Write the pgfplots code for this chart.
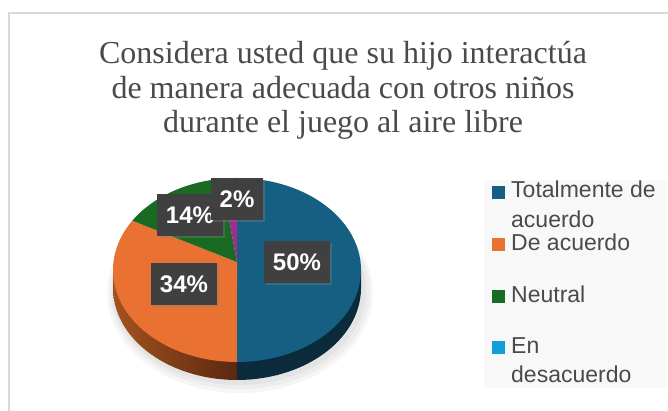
\documentclass[border=0pt]{standalone}
\usepackage{pgfplots}
\pgfplotsset{compat=1.18}
\usepackage{pgfplotstable}
\usetikzlibrary{shadows}
\usepackage{fontspec}
\setmainfont{Liberation Serif}
\newfontfamily\sansf{Liberation Sans}
\definecolor{cA}{HTML}{156082}
\definecolor{cB}{HTML}{E97132}
\definecolor{cC}{HTML}{196B24}
\definecolor{cD}{HTML}{0F9ED5}
\definecolor{cE}{HTML}{A02B93}
\definecolor{sideA}{HTML}{0B2A3B}
\definecolor{sideBl}{HTML}{A4521E}
\definecolor{sideBr}{HTML}{5A2811}
\definecolor{txt}{HTML}{4A4A4A}
\definecolor{lbl}{HTML}{404040}
\definecolor{frame}{HTML}{D9D9D9}
\definecolor{legbg}{HTML}{F8F8F8}

\pgfplotstableread[col sep=comma]{
categoria,pct
Totalmente de acuerdo,50
De acuerdo,34
Neutral,14
En desacuerdo,0
Totalmente en desacuerdo,2
}\piedata
\pgfplotstablegetelem{0}{pct}\of\piedata \let\pA\pgfplotsretval
\pgfplotstablegetelem{1}{pct}\of\piedata \let\pB\pgfplotsretval
\pgfplotstablegetelem{2}{pct}\of\piedata \let\pC\pgfplotsretval
\pgfplotstablegetelem{3}{pct}\of\piedata \let\pD\pgfplotsretval
\pgfplotstablegetelem{4}{pct}\of\piedata \let\pE\pgfplotsretval
\pgfmathsetmacro{\aO}{90}
\pgfmathsetmacro{\aA}{\aO-3.6*\pA}
\pgfmathsetmacro{\aB}{\aA-3.6*\pB}
\pgfmathsetmacro{\aC}{\aB-3.6*\pC}
\pgfmathsetmacro{\aD}{\aC-3.6*\pD}
\pgfmathsetmacro{\aE}{\aD-3.6*\pE}

\tikzset{lab/.style={fill=lbl, text=white, font=\sansf\bfseries\fontsize{24}{26}\selectfont,
  minimum height=42pt, inner xsep=9pt, inner ysep=0pt,
  drop shadow={opacity=0.35, shadow xshift=2pt, shadow yshift=-2pt}}}

\begin{document}
\begin{tikzpicture}
\begin{axis}[width=668pt, height=411pt, scale only axis,
  xmin=0, xmax=668, ymin=0, ymax=411, hide axis, clip=false]
% frame
\draw[frame, line width=1.5pt] (axis cs:9,0) -- (axis cs:9,398) -- (axis cs:668,398);
% title
\node[anchor=base, text=txt, font=\fontsize{32}{35}\selectfont] at (axis cs:343,347) {Considera usted que su hijo interactúa};
\node[anchor=base, text=txt, font=\fontsize{32}{35}\selectfont] at (axis cs:343,312) {de manera adecuada con otros niños};
\node[anchor=base, text=txt, font=\fontsize{32}{35}\selectfont] at (axis cs:343,278) {durante el juego al aire libre};
% soft shadow
\fill[black, opacity=0.035] (axis cs:240,118) ellipse [x radius=133pt, y radius=100pt];
\fill[black, opacity=0.035] (axis cs:240,119) ellipse [x radius=130pt, y radius=97pt];
\fill[black, opacity=0.04] (axis cs:239,120) ellipse [x radius=127pt, y radius=94pt];
% sides
\addplot[draw=none, left color=sideBl, right color=sideBr, domain=-180:-90, samples=50]
  ({237+124*cos(x)}, {123+92*sin(x)}) -- (axis cs:237,141) -- (axis cs:113,141) -- cycle;
\addplot[draw=none, fill=sideA, domain=-90:0, samples=50]
  ({237+124*cos(x)}, {123+92*sin(x)}) -- (axis cs:361,141) -- (axis cs:237,141) -- cycle;
% top face
\addplot[draw=none, fill=cA, domain=\aA:\aO, samples=90]
  ({237+124*cos(x)}, {141+92*sin(x)}) -- (axis cs:237,149) -- cycle;
\addplot[draw=none, fill=cB, domain=\aB:\aA, samples=70]
  ({237+124*cos(x)}, {141+92*sin(x)}) -- (axis cs:237,149) -- cycle;
\addplot[draw=none, fill=cC, domain=\aC:\aB, samples=40]
  ({237+124*cos(x)}, {141+92*sin(x)}) -- (axis cs:237,149) -- cycle;
\addplot[draw=none, fill=cE, domain=\aE:\aD, samples=10]
  ({237+124*cos(x)}, {141+92*sin(x)}) -- (axis cs:237,149) -- cycle;
% data labels
\node[lab] at (axis cs:297,149) {\pA\%};
\node[lab] at (axis cs:184,127) {\pB\%};
\node[lab] at (axis cs:190,196) {\pC\%};
\node[lab, inner xsep=9pt] at (axis cs:237,212) {\pE\%};
% legend
\fill[legbg] (axis cs:484,23) rectangle (axis cs:666,231);
\fill[cA] (axis cs:492,212) rectangle (axis cs:505,225);
\fill[cB] (axis cs:492,160) rectangle (axis cs:505,173);
\fill[cC] (axis cs:492,108) rectangle (axis cs:505,121);
\fill[cD] (axis cs:492,57) rectangle (axis cs:505,70);
\begin{scope}[every node/.style={anchor=base west, text=txt, font=\sansf\fontsize{23}{26}\selectfont, inner sep=0pt}]
\node at (axis cs:511,213) {Totalmente de};
\node at (axis cs:511,183) {acuerdo};
\node at (axis cs:511,160) {De acuerdo};
\node at (axis cs:511,108) {Neutral};
\node at (axis cs:511,57) {En};
\node at (axis cs:511,28) {desacuerdo};
\end{scope}
\end{axis}
\pgfresetboundingbox
\path[use as bounding box] (current axis.south west) rectangle (current axis.north east);
\end{tikzpicture}
\end{document}
